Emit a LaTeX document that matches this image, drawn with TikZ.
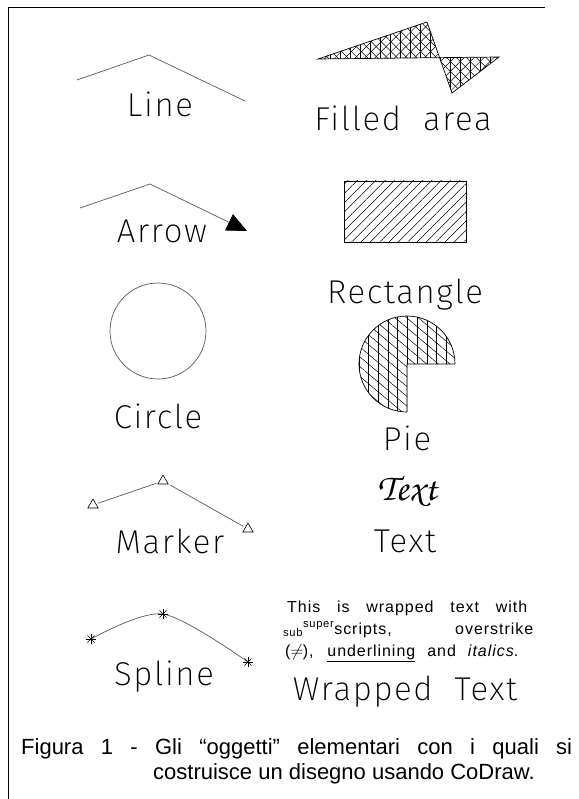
\documentclass[tikz,border=0pt]{standalone}
\usepackage[T1]{fontenc}
\usepackage{fontspec}
\setmainfont{Liberation Sans}
\newfontfamily\plotfont{Fira Sans ExtraLight}[LetterSpace=5]
\newfontfamily\parafont{Liberation Sans}[LetterSpace=6]
\usetikzlibrary{arrows.meta, patterns.meta, shapes.geometric}

\newcommand{\chancery}{\fontencoding{T1}\fontfamily{pzc}\fontseries{mb}\fontshape{it}\selectfont}

\tikzset{
    lbl/.style={anchor=base, inner sep=0pt, font=\plotfont\fontsize{33}{33}\selectfont},
    para/.style={anchor=base west, inner sep=0pt, font=\parafont\fontsize{16}{16}\selectfont},
    capline/.style={anchor=base west, inner sep=0pt, font=\fontsize{22}{22}\selectfont},
    stroke/.style={gray!70!black, line width=0.7pt},
    tri/.style={draw, regular polygon, regular polygon sides=3, minimum size=12pt, inner sep=0pt, line width=0.6pt},
    hatch/.style={pattern={Lines[angle=#1, distance=7pt, line width=0.5pt]}},
    pics/ast/.style={code={\foreach \a in {0,45,90,135} \draw[line width=0.6pt] (\a:5) -- (\a+180:5);}}
}

\begin{document}
\begin{tikzpicture}[x=1pt, y=-1pt]
                \useasboundingbox (0,0) rectangle (578,799);
                % frame
                \draw[line width=0.8pt] (545,7) -- (8,7) -- (8,799);
                % line
                \coordinate (L1) at (77,80);
                \coordinate (L2) at (149,55);
                \coordinate (L3) at (245,101);
                \draw[stroke] (L1) -- (L2) -- (L3);
                \node[lbl] (lline) at (160,117) {Line};
                % filled area
                \coordinate (F1) at (318,59);
                \coordinate (F2) at (427,22);
                \coordinate (F3) at (452,93);
                \coordinate (F4) at (499,57);
                \fill[hatch=45] (F1) -- (F2) -- (F3) -- (F4) -- cycle;
                \fill[hatch=-45] (F1) -- (F2) -- (F3) -- (F4) -- cycle;
                \fill[pattern={Lines[angle=90, distance=10pt, line width=0.5pt]}] (F1) -- (F2) -- (F3) -- (F4) -- cycle;
                \draw[line width=0.7pt] (F1) -- (F2) -- (F3) -- (F4) -- cycle;
                \node[lbl] (lfill) at (403,131) {Filled\ \ area};
                % arrow
                \coordinate (A1) at (80,208);
                \coordinate (A2) at (150,184);
                \coordinate (A3) at (247,231);
                \draw[stroke, -{Triangle[length=20pt, width=18pt, black]}] (A1) -- (A2) -- (A3);
                \node[lbl] (larrow) at (162,243) {Arrow};
                % rectangle
                \coordinate (R1) at (344,181);
                \coordinate (R2) at (466,242);
                \fill[pattern={Lines[angle=45, distance=6.6pt, line width=0.5pt]}] (R1) rectangle (R2);
                \draw[line width=0.7pt] (R1) rectangle (R2);
                \node[lbl] (lrect) at (405,303) {Rectangle};
                % circle
                \coordinate (C) at (158,331);
                \draw[stroke] (C) circle[radius=48];
                \node[lbl] (lcirc) at (158,428) {Circle};
                % pie
                \coordinate (P) at (407,364);
                \fill[pattern={Lines[angle=90, distance=9.7pt, line width=0.5pt]}] (P) -- ++(48,0) arc[start angle=0, end angle=-270, radius=48] -- cycle;
                \fill[pattern={Lines[angle=-40, distance=7.5pt, line width=0.5pt]}] (P) -- ++(48,0) arc[start angle=0, end angle=-270, radius=48] -- cycle;
                \draw[line width=0.7pt] (P) -- ++(48,0) arc[start angle=0, end angle=-270, radius=48] -- cycle;
                \node[lbl] (lpie) at (407,450) {Pie};
                % marker
                \node[tri] (M1) at (93,505) {};
                \node[tri] (M2) at (163,481) {};
                \node[tri] (M3) at (248,529) {};
                \draw[stroke, shorten >=2pt, shorten <=2pt] (M1) -- (M2);
                \draw[stroke, shorten >=2pt, shorten <=2pt] (M2) -- (M3);
                \node[lbl] (lmark) at (170,553) {Marker};
                % text
                \node[anchor=base, inner sep=0pt, font=\chancery\fontsize{38}{38}\selectfont] (tscript) at (407,500) {Text};
                \node[lbl] (ltext) at (405,552) {Text};
                % spline
                \coordinate (S1) at (91,639);
                \coordinate (S2) at (163,614);
                \coordinate (S3) at (248,662);
                \draw[stroke] plot[smooth] coordinates {(S1) (S2) (S3)};
                \pic at (S1) {ast};
                \pic at (S2) {ast};
                \pic at (S3) {ast};
                \node[lbl] (lspline) at (164,685) {Spline};
                % wrapped text
                \node[para] (w1) at (287,612) {\makebox[240pt][s]{This is wrapped text with}};
                \node[para] (w2) at (283,634) {\makebox[250pt][s]{\textsubscript{sub}\textsuperscript{super}scripts, overstrike}};
                \node[para] (w3) at (285,656) {\makebox[233pt][s]{($\neq$), \underline{underlining} and \textit{italics}.}};
                \node[lbl] (lwrap) at (405,700) {Wrapped\ \ Text};
                % caption
                \node[capline] (c1) at (21,754) {\makebox[551pt][s]{Figura 1 - Gli “oggetti” elementari con i quali si}};
                \node[capline] (c2) at (153,779) {costruisce un disegno usando CoDraw.};
\end{tikzpicture}
\end{document}
